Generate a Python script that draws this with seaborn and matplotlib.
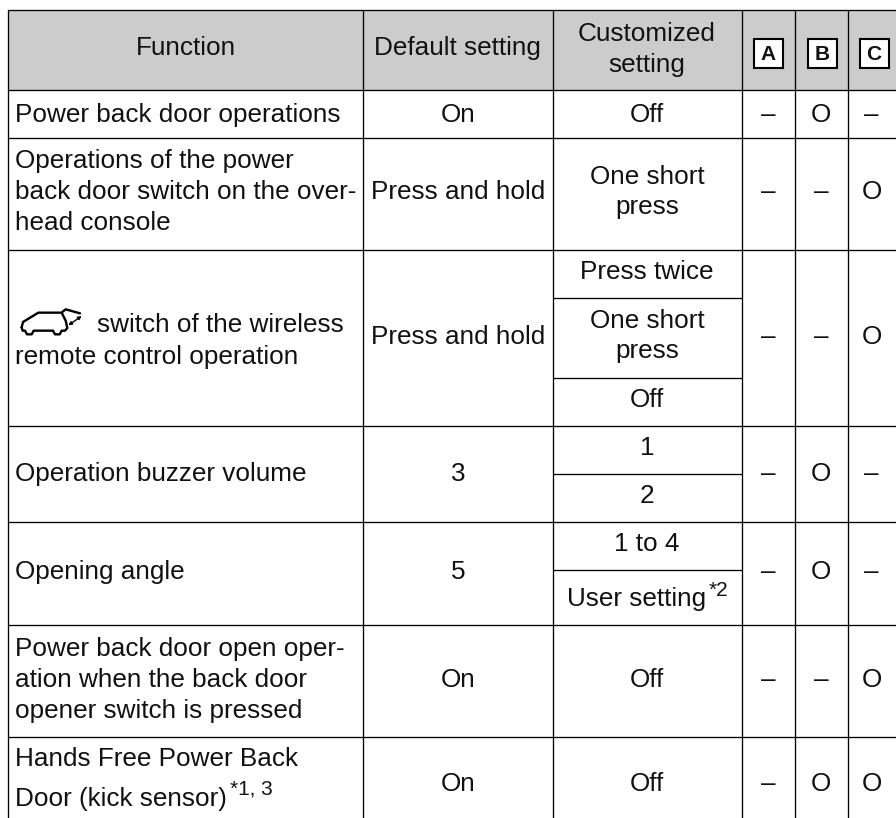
import numpy as np
import seaborn as sns
import matplotlib
matplotlib.use("Agg")
import matplotlib.pyplot as plt
from matplotlib.patches import Rectangle, PathPatch
from matplotlib.path import Path

# ---------- table content ----------
header_labels = ["Function", "Default setting", "Customized\nsetting"]
header_boxes = ["A", "B", "C"]
functions = [
    "Power back door operations",
    "Operations of the power\nback door switch on the over-\nhead console",
    "switch of the wireless\nremote control operation",
    "Operation buzzer volume",
    "Opening angle",
    "Power back door open oper-\nation when the back door\nopener switch is pressed",
    "Hands Free Power Back\nDoor (kick sensor)",
]
defaults = ["On", "Press and hold", "Press and hold", "3", "5", "On", "On"]
customized = [
    ["Off"],
    ["One short\npress"],
    ["Press twice", "One short\npress", "Off"],
    ["1", "2"],
    ["1 to 4", "User setting"],
    ["Off"],
    ["Off"],
]
col_a = ["–", "–", "–", "–", "–", "–", "–"]
col_b = ["O", "–", "–", "O", "O", "–", "O"]
col_c = ["–", "O", "O", "–", "–", "O", "O"]

# ---------- layout (pixels of the 896x818 page) ----------
W, H = 896, 818
col_x = [8, 363, 552.5, 741.5, 794.5, 847.5, 896]
row_y = [10, 90, 138, 250, 426, 522, 625, 737]
sub_y = {2: [298, 378], 3: [474], 4: [570]}
row_text_y = [115, 192, 337, 474, 572, 680, 784]
box_cx = [768, 822, 874]
FS = 18.8
LW = 0.95
SPACING = 1.36

sns.set_theme(style="white")
plt.rcParams["font.family"] = ["Liberation Sans", "DejaVu Sans"]

fig = plt.figure(figsize=(W / 100, H / 100), dpi=100)
ax = fig.add_axes([0, 0, 1, 1])
ax.set_xlim(0, W)
ax.set_ylim(H, 0)
ax.axis("off")

ink = "#111111"
ax.add_patch(Rectangle((col_x[0], row_y[0]), W - col_x[0], row_y[1] - row_y[0],
                       fc="#cccccc", ec="none", zorder=0))


def hline(y, x0=col_x[0], x1=W):
    ax.plot([x0, x1], [y, y], color="black", lw=LW, solid_capstyle="butt", zorder=3)


for y in row_y:
    hline(y)
for x in col_x[:-1]:
    ax.plot([x, x], [row_y[0], H], color="black", lw=LW, solid_capstyle="butt", zorder=3)
for ys in sub_y.values():
    for y in ys:
        hline(y, col_x[2], col_x[3])


def put(x, y, s, ha="center", fs=FS, **kw):
    ax.text(x, y, s, ha=ha, va="center", fontsize=fs, color=ink,
            linespacing=SPACING, zorder=4, **kw)


def mid(i):
    return (col_x[i] + col_x[i + 1]) / 2


# header
put(mid(0), 48, header_labels[0])
put(mid(1), 48, header_labels[1])
put(mid(2), 49.5, header_labels[2])
for cx, lab in zip(box_cx, header_boxes):
    ax.add_patch(Rectangle((cx - 14.5, 38.5), 29, 29, fc="white", ec="black", lw=1.5, zorder=4))
    put(cx, 54, lab, fs=15, fontweight="bold")

# body
for r in range(len(functions)):
    top, bot = row_y[r + 1], row_y[r + 2] if r + 2 < len(row_y) else H
    ty = row_text_y[r]
    if r == 2:
        lines = functions[r].split("\n")
        put(97, 325, lines[0], ha="left")
        put(15, 357, lines[1], ha="left")
    elif r == 6:
        lines = functions[r].split("\n")
        put(15, 759, lines[0], ha="left")
        put(15, 799, lines[1], ha="left")
        put(230, 789, "*1, 3", ha="left", fs=15)
    else:
        put(15, ty, functions[r], ha="left")
    put(mid(1), ty, defaults[r])

    subs = customized[r]
    edges = [top] + sub_y.get(r, []) + [bot]
    for j, s in enumerate(subs):
        sy = (edges[j] + edges[j + 1]) / 2
        if s == "User setting":
            put(mid(2) - 10, sy + 1.5, s)
            put(709, sy - 7, "*2", ha="left", fs=15)
        elif len(subs) == 1:
            put(mid(2), ty, s)
        else:
            put(mid(2), sy - 2, s)
    put(mid(3), ty, col_a[r])
    put(mid(4), ty, col_b[r])
    put(mid(5), ty, col_c[r])

# vehicle icon (outline, in a 3x local grid)
icon_origin = np.array([15, 300])
car = [(20, 82), (24, 66), (70, 38), (140, 38), (152, 62), (157, 84), (150, 92), (140, 92),
       (134, 103), (120, 103), (114, 92), (56, 92), (50, 103), (36, 103), (30, 92), (23, 92), (20, 82)]
gate = [(142, 36), (152, 28), (195, 40)]
for pts in (car, gate):
    p = Path(np.array(pts) / 3 + icon_origin)
    ax.add_patch(PathPatch(p, fc="none", ec="black", lw=1.7, joinstyle="round", capstyle="round", zorder=4))
ax.annotate("", xy=(15 + 200 / 3, 300 + 48 / 3), xytext=(15 + 160 / 3, 300 + 76 / 3),
            arrowprops=dict(arrowstyle="<|-|>", color="black", lw=1.0, mutation_scale=5,
                            shrinkA=0, shrinkB=0), zorder=4)

fig.savefig("out.png", dpi=100, facecolor="white")
